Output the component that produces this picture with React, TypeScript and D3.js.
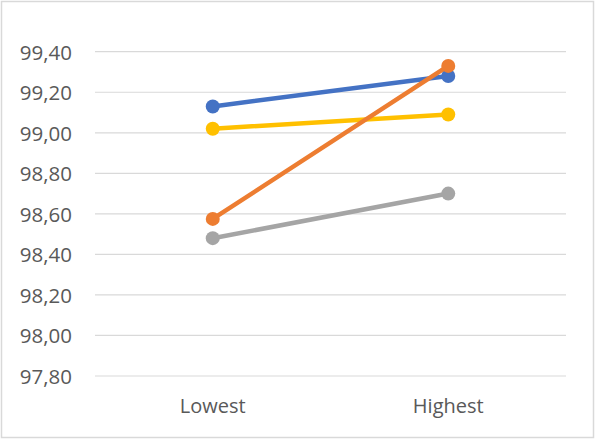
import React from "react";
import * as d3 from "d3";

const categories = ["Lowest", "Highest"];
const seriesNames = ["Series1", "Series2", "Series3", "Series4"];
const seriesColors = ["#4472C4", "#ED7D31", "#A5A5A5", "#FFC000"];
const series1 = [99.13, 99.28];
const series2 = [98.575, 99.33];
const series3 = [98.48, 98.7];
const series4 = [99.02, 99.09];
const yTicks = [97.8, 98.0, 98.2, 98.4, 98.6, 98.8, 99.0, 99.2, 99.4];

const W = 595;
const H = 439;
const plot = { left: 95, right: 566, top: 51.7, bottom: 376 };

export default function App() {
  const x = d3.scaleBand().domain(categories).range([plot.left, plot.right]);
  const y = d3.scaleLinear().domain([97.8, 99.4]).range([plot.bottom, plot.top]);
  const all = [series1, series2, series3, series4];
  const drawOrder = [0, 3, 2, 1];
  const line = d3
    .line<number>()
    .x((_, i) => (x(categories[i]) as number) + x.bandwidth() / 2)
    .y((v) => y(v));
  const fmt = (v: number) => v.toFixed(2).replace(".", ",");
  const font = "'Open Sans', sans-serif";
  return (
    <svg
      width={W}
      height={H}
      style={{ position: "absolute", left: 0, top: 0, display: "block" }}
    >
      <rect x={0} y={0} width={W} height={H} fill="#fff" />
      <rect x={1.5} y={1.5} width={592} height={436} fill="none" stroke="#d9d9d9" strokeWidth={1.5} />
      {yTicks.map((t) => (
        <g key={t}>
          <line x1={plot.left} x2={plot.right} y1={y(t)} y2={y(t)} stroke="#d9d9d9" strokeWidth={1.2} />
          <text
            x={72}
            y={y(t) + 7.8}
            textAnchor="end"
            fontFamily={font}
            fontSize={20.5}
            fill="#595959"
          >
            {fmt(t)}
          </text>
        </g>
      ))}
      {categories.map((c) => (
        <text
          key={c}
          x={(x(c) as number) + x.bandwidth() / 2}
          y={413}
          textAnchor="middle"
          fontFamily={font}
          fontSize={20}
          fill="#595959"
        >
          {c}
        </text>
      ))}
      {drawOrder.map((si) => (
        <g key={seriesNames[si]}>
          <path d={line(all[si]) || ""} fill="none" stroke={seriesColors[si]} strokeWidth={4.5} strokeLinecap="round" />
          {all[si].map((v, i) => (
            <circle
              key={i}
              cx={(x(categories[i]) as number) + x.bandwidth() / 2}
              cy={y(v)}
              r={7}
              fill={seriesColors[si]}
            />
          ))}
        </g>
      ))}
    </svg>
  );
}
